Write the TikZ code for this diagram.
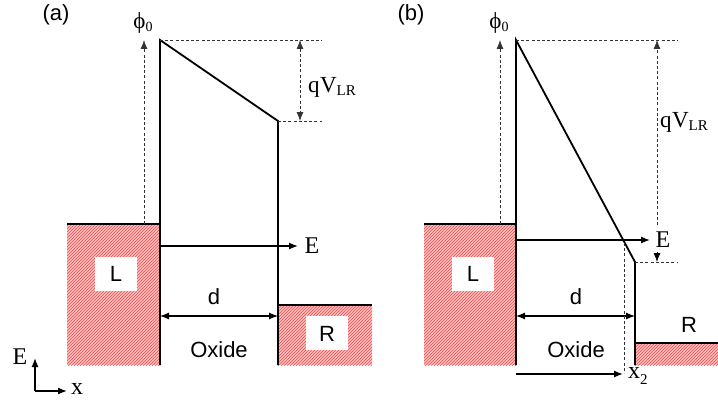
\documentclass[tikz,border=0pt]{standalone}
\usepackage{fontspec}
\setmainfont{Liberation Serif}
\newfontfamily\arialf{Liberation Sans}
\usetikzlibrary{arrows.meta,patterns}
\definecolor{hatchbg}{RGB}{252,190,190}
\definecolor{hatchln}{RGB}{240,80,80}
\tikzset{
  band/.style={line width=1.8pt,black,line join=miter},
  edge/.style={line width=1.6pt,black},
  dsh/.style={line width=0.8pt,dash pattern=on 3pt off 2.2pt,black!80},
  tip/.style={-{Latex[length=9pt,width=7pt]}},
  dtip/.style={{Latex[length=9pt,width=7pt]}-{Latex[length=9pt,width=7pt]}},
  hatch/.style={preaction={fill=hatchbg},pattern={north east lines},pattern color=hatchln},
  whitebox/.style={fill=white,draw=none},
  sans/.style={font=\arialf\fontsize{22}{24}\selectfont,inner sep=0pt},
  serif/.style={font=\fontsize{24}{26}\selectfont,inner sep=0pt},
  qlab/.style={font=\fontsize{23}{24}\selectfont,inner sep=0pt},
}
\newcommand{\qvlr}{q\kern0.5pt V{\fontsize{15}{15}\selectfont\raisebox{-3pt}{LR}}}
\newcommand{\phizero}{{\fontsize{23}{23}\selectfont ϕ}{\fontsize{14}{14}\selectfont\raisebox{-3pt}{0}}}
\begin{document}
\begin{tikzpicture}[x=1pt,y=-1pt]
\useasboundingbox (0,0) rectangle (718,404);
% ---------------- panel (a) ----------------
\fill[hatch] (67,224) rectangle (160,365);
\fill[hatch] (278,305) rectangle (372,365);
\fill[whitebox] (95,257) rectangle (137,291);
\fill[whitebox] (306,316) rectangle (348,350);
\coordinate (aLtl) at (67,224);
\coordinate (aLtr) at (160,224);
\coordinate (aWb) at (160,365);
\coordinate (aWt) at (160,40);
\coordinate (aRt) at (278,121);
\coordinate (aRb) at (278,365);
\coordinate (aRtl) at (278,305);
\coordinate (aRtr) at (372,305);
\draw[edge] (aLtl) -- (aLtr);
\draw[edge] (aRtl) -- (aRtr);
\draw[band] (aWb) -- (aWt) -- (aRt) -- (aRb);
\node[sans] (aL) at (116,274) {L};
\node[sans] (aR) at (327,334) {R};
\node[sans] (alab) at (56,15) {(a)};
\node[inner sep=0pt] (aphi) at (143,23) {\phizero};
\coordinate (aPb) at (144,224);
\coordinate (aPt) at (144,40);
\draw[dsh,tip] (aPb) -- (aPt);
\coordinate (aD1) at (322,40);
\coordinate (aD2) at (322,121);
\draw[dsh] (aWt) -- (aD1);
\draw[dsh] (aRt) -- (aD2);
\coordinate (aQt) at (300,40);
\coordinate (aQb) at (300,121);
\draw[dsh,dtip] (aQt) -- (aQb);
\node[qlab] (aq) at (332,87) {\qvlr};
\coordinate (aEs) at (160,246);
\coordinate (aEe) at (298,246);
\draw[line width=1.3pt,tip] (aEs) -- (aEe);
\node[serif] (aE) at (312,246) {E};
\coordinate (adl) at (160,316);
\coordinate (adr) at (278,316);
\draw[line width=1.1pt,dtip] (adl) -- (adr);
\node[sans] (ad) at (214,297) {d};
\node[sans] (aox) at (219,350) {Oxide};
% axes
\coordinate (ax0) at (35,391);
\coordinate (axu) at (35,358);
\coordinate (axr) at (67,391);
\draw[line width=1.3pt,tip] (ax0) -- (axu);
\draw[line width=1.3pt,tip] (ax0) -- (axr);
\node[serif] (axE) at (20,357) {E};
\node[serif] (axx) at (77,389) {x};
% ---------------- panel (b) ----------------
\fill[hatch] (424,224) rectangle (516,365);
\fill[hatch] (635,343) rectangle (718,365);
\fill[whitebox] (452,257) rectangle (494,291);
\coordinate (bLtl) at (424,224);
\coordinate (bLtr) at (516,224);
\coordinate (bWb) at (516,365);
\coordinate (bWt) at (516,40);
\coordinate (bRt) at (635,262);
\coordinate (bRb) at (635,365);
\coordinate (bRtl) at (635,343);
\coordinate (bRtr) at (718,343);
\draw[edge] (bLtl) -- (bLtr);
\draw[edge] (bRtl) -- (bRtr);
\draw[band] (bWb) -- (bWt) -- (bRt) -- (bRb);
\node[sans] (bL) at (473,274) {L};
\node[sans] (bR) at (689,325) {R};
\node[sans] (blab) at (411,15) {(b)};
\node[inner sep=0pt] (bphi) at (499,23) {\phizero};
\coordinate (bPb) at (500,224);
\coordinate (bPt) at (500,40);
\draw[dsh,tip] (bPb) -- (bPt);
\coordinate (bD1) at (678,40);
\coordinate (bD2) at (677,262);
\draw[dsh] (bWt) -- (bD1);
\draw[dsh] (bRt) -- (bD2);
\coordinate (bQt) at (657,40);
\coordinate (bQm) at (657,225);
\coordinate (bQa) at (657,252);
\coordinate (bQb) at (657,262);
\draw[dsh,tip] (bQm) -- (bQt);
\draw[line width=0.8pt,tip] (bQa) -- (bQb);
\node[qlab] (bq) at (684,122) {\qvlr};
\coordinate (bEs) at (516,240);
\coordinate (bEe) at (650,240);
\draw[line width=1.3pt,tip] (bEs) -- (bEe);
\node[serif] (bE) at (663,240) {E};
\coordinate (bdl) at (516,316);
\coordinate (bdr) at (635,316);
\draw[line width=1.1pt,dtip] (bdl) -- (bdr);
\node[sans] (bd) at (576,297) {d};
\node[sans] (box) at (576,350) {Oxide};
\coordinate (bXt) at (624,243);
\coordinate (bXb) at (624,373);
\draw[dsh] (bXt) -- (bXb);
\coordinate (bXs) at (516,374);
\coordinate (bXe) at (623,374);
\draw[line width=1.3pt,tip] (bXs) -- (bXe);
\node[serif,anchor=west] (bx2) at (628,376) {x{\fontsize{15}{15}\selectfont\raisebox{-6pt}{2}}};
\end{tikzpicture}
\end{document}
